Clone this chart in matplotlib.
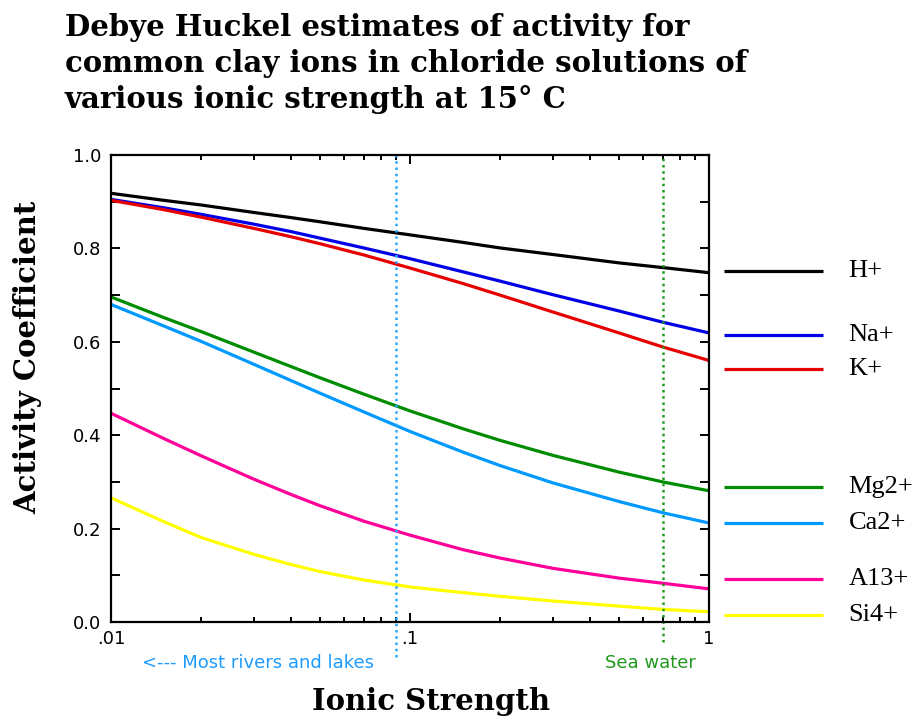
import matplotlib
matplotlib.use('Agg')
import matplotlib.pyplot as plt
import matplotlib.transforms as mtransforms
from matplotlib.ticker import NullFormatter

#data
ionic = [0.01, 0.015, 0.02, 0.03, 0.04, 0.05, 0.07, 0.1, 0.15, 0.2, 0.3, 0.5, 0.7, 1.0]
h_ion = [0.918, 0.903, 0.893, 0.877, 0.866, 0.857, 0.843, 0.829, 0.813, 0.801, 0.787, 0.769, 0.759, 0.748]
na_ion = [0.905, 0.887, 0.873, 0.852, 0.836, 0.822, 0.801, 0.778, 0.750, 0.730, 0.701, 0.666, 0.642, 0.619]
k_ion = [0.903, 0.883, 0.867, 0.843, 0.825, 0.810, 0.786, 0.758, 0.725, 0.700, 0.664, 0.619, 0.589, 0.560]
mg_ion = [0.696, 0.652, 0.622, 0.578, 0.547, 0.523, 0.488, 0.452, 0.414, 0.389, 0.357, 0.321, 0.300, 0.281]
ca_ion = [0.680, 0.634, 0.601, 0.552, 0.517, 0.490, 0.450, 0.408, 0.364, 0.335, 0.298, 0.258, 0.234, 0.212]
al_ion = [0.447, 0.393, 0.356, 0.306, 0.273, 0.249, 0.216, 0.186, 0.155, 0.137, 0.115, 0.094, 0.083, 0.071]
si_ion = [0.266, 0.215, 0.181, 0.145, 0.123, 0.108, 0.090, 0.075, 0.063, 0.055, 0.045, 0.034, 0.027, 0.022]

names = ['H+', 'Na+', 'K+', 'Mg2+', 'Ca2+', 'A13+', 'Si4+']
series = [h_ion, na_ion, k_ion, mg_ion, ca_ion, al_ion, si_ion]
colors = ['#000000', '#0000E6', '#E60000', '#008C00', '#0099FF', '#FF0099', '#FFFF00']

#where the key rows sit (data units on the y axis)
key_y = [0.752, 0.615, 0.542, 0.289, 0.212, 0.092, 0.015]

rivers_x = 0.09
sea_x = 0.7

xtick_vals = [0.01, 0.1, 1.0]
xtick_text = ['.01', '.1', '1']
ytick_vals = [0.0, 0.2, 0.4, 0.6, 0.8, 1.0]
ytick_text = ['0.0', '0.2', '0.4', '0.6', '0.8', '1.0']

#figure
fig = plt.figure(figsize=(9.2, 7.19), dpi=100)
ax = fig.add_axes([0.1207, 0.1349, 0.65, 0.6495])

for vals, c in zip(series, colors):
    ax.plot(ionic, vals, color=c, lw=2.3, solid_capstyle='butt')

ax.set_xscale('log')
ax.set_xlim(0.01, 1.0)
ax.set_ylim(0.0, 1.0)

#dotted markers for rivers / sea water
ax.axvline(rivers_x, ymin=-0.075, ymax=1, color='#2AA6FF', lw=1.8,
           linestyle=(0, (1, 1.5)), clip_on=False)
ax.axvline(sea_x, ymin=-0.043, ymax=1, color='#229A22', lw=1.8,
           linestyle=(0, (1, 1.5)), clip_on=False)

#ticks
ax.set_xticks(xtick_vals)
ax.set_xticklabels(xtick_text)
ax.xaxis.set_minor_formatter(NullFormatter())
ax.set_yticks(ytick_vals)
ax.set_yticklabels(ytick_text)
ax.set_yticks([0.1, 0.3, 0.5, 0.7, 0.9], minor=True)
ax.tick_params(which='both', direction='in', top=True, right=True, width=1.4,
               labelsize=13, colors='black')
ax.tick_params(axis='y', which='both', length=6.5, pad=7)
ax.tick_params(axis='x', which='major', length=6.5, pad=6)
ax.tick_params(axis='x', which='minor', length=3.5)
for sp in ax.spines.values():
    sp.set_linewidth(1.6)

#key at the right, outside the axes
trans = mtransforms.blended_transform_factory(ax.transAxes, ax.transData)
for name, c, yk in zip(names, colors, key_y):
    ax.plot([1.025, 1.191], [yk, yk], color=c, lw=2.3, transform=trans,
            clip_on=False, solid_capstyle='butt')
    ax.text(1.233, yk, name, transform=trans, ha='left', va='center',
            family='Liberation Serif', fontsize=19)

#notes under the axis
fig.text(142 / 920, 1 - 663 / 719, '<--- Most rivers and lakes', color='#1E9BFF',
         family='DejaVu Sans', fontsize=13, ha='left', va='center')
fig.text(605 / 920, 1 - 663 / 719, 'Sea water', color='#1F9A1F',
         family='DejaVu Sans', fontsize=13, ha='left', va='center')

#labels and title
fig.text(431 / 920, 1 - 702 / 719, 'Ionic Strength', family='DejaVu Serif',
         weight='bold', fontsize=21, ha='center', va='center')
fig.text(28 / 920, 1 - 357 / 719, 'Activity Coefficient', family='DejaVu Serif',
         weight='bold', fontsize=21, ha='center', va='center', rotation=90)
fig.text(65 / 920, 1 - 13 / 719,
         'Debye Huckel estimates of activity for\n'
         'common clay ions in chloride solutions of\n'
         'various ionic strength at 15\u00b0 C',
         family='DejaVu Serif', weight='bold', fontsize=21, ha='left', va='top',
         linespacing=1.3)

fig.savefig('out.png', dpi=100)
